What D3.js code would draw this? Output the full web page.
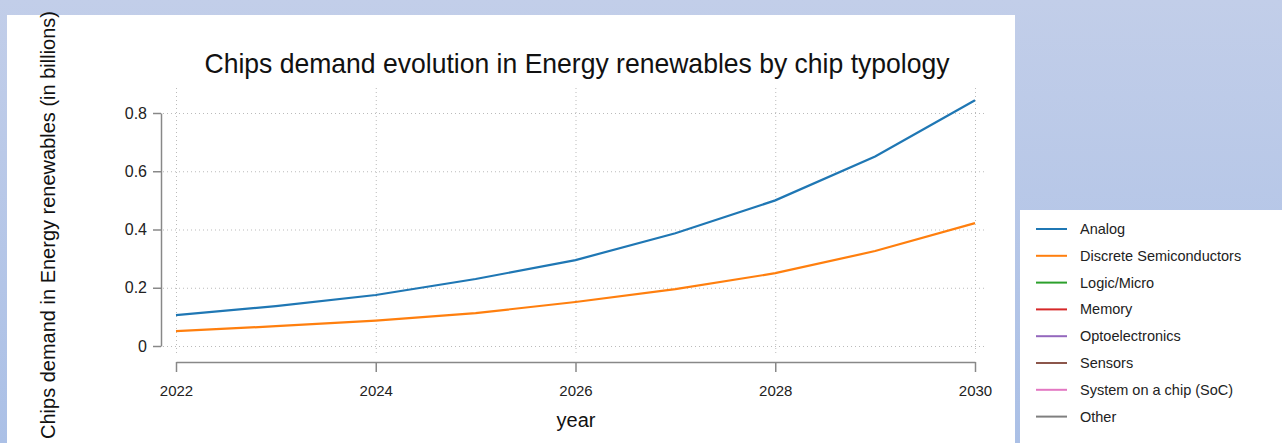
<!DOCTYPE html>
<html><head><meta charset="utf-8">
<script src="https://cdn.jsdelivr.net/npm/d3@7"></script>
<style>
html,body{margin:0;padding:0;}
body{width:1282px;height:443px;overflow:hidden;background:linear-gradient(#c2cee9,#abc0e6);}
</style></head>
<body>
<svg id="chart" width="1282" height="443"></svg>
<script>
const years = [2022, 2023, 2024, 2025, 2026, 2027, 2028, 2029, 2030];
const analog = [0.106, 0.137, 0.175, 0.230, 0.295, 0.387, 0.500, 0.651, 0.844];
const discrete = [0.051, 0.068, 0.087, 0.113, 0.151, 0.195, 0.250, 0.326, 0.422];
const seriesNames = ["Analog","Discrete Semiconductors","Logic/Micro","Memory","Optoelectronics","Sensors","System on a chip (SoC)","Other"];
const seriesColors = ["#1f77b4","#ff7f0e","#2ca02c","#d62728","#9467bd","#8c564b","#e377c2","#7f7f7f"];
const yTicks = [0, 0.2, 0.4, 0.6, 0.8];
const xTicks = [2022, 2024, 2026, 2028, 2030];
const title = "Chips demand evolution in Energy renewables by chip typology";
const xLabel = "year";
const yLabel = "Chips demand in Energy renewables (in billions)";

const svg = d3.select("#chart");
const font = "'Liberation Sans', Arial, sans-serif";

// panels
svg.append("rect").attr("x",7).attr("y",15).attr("width",1008).attr("height",430).attr("fill","#fff");
svg.append("rect").attr("x",1020).attr("y",210).attr("width",262).attr("height",235).attr("fill","#fff");

const x = d3.scaleLinear().domain([2022,2030]).range([176,975]);
const y = d3.scaleLinear().domain([0,0.8]).range([346,113]);

// grid
const grid = svg.append("g").attr("stroke","#bbb").attr("stroke-width",1).attr("stroke-dasharray","1,3");
grid.selectAll("line.h").data(yTicks).join("line").attr("class","h")
  .attr("x1",163).attr("x2",985).attr("y1",d=>y(d)+0.5).attr("y2",d=>y(d)+0.5);
grid.selectAll("line.v").data(xTicks).join("line").attr("class","v")
  .attr("y1",88).attr("y2",354).attr("x1",d=>x(d)+0.5).attr("x2",d=>x(d)+0.5);

// y axis
const yAxis = d3.axisLeft(y).tickValues(yTicks).tickFormat(d=>d===0?"0":d3.format(".1f")(d)).tickSize(8).tickSizeOuter(0);
const gy = svg.append("g").attr("transform","translate(161,0)").call(yAxis);
gy.select(".domain").attr("stroke","#888").attr("stroke-width",1.5);
gy.selectAll(".tick line").attr("stroke","#888").attr("stroke-width",1.5);
gy.selectAll(".tick text").attr("font-family",font).attr("font-size",16).attr("fill","#222").attr("x",-14);

// x axis
const xAxis = d3.axisBottom(x).tickValues(xTicks).tickFormat(d3.format("d")).tickSize(10).tickSizeOuter(0);
const gx = svg.append("g").attr("transform","translate(0,362)").call(xAxis);
gx.select(".domain").attr("stroke","#888").attr("stroke-width",1.5);
gx.selectAll(".tick line").attr("stroke","#888").attr("stroke-width",1.5);
gx.selectAll(".tick text").attr("font-family",font).attr("font-size",15).attr("fill","#222").attr("dy","1.4em");

// lines
const line = d3.line().x((d,i)=>x(years[i])).y(d=>y(d));
[[analog,seriesColors[0]],[discrete,seriesColors[1]]].forEach(([vals,c])=>{
  svg.append("path").datum(vals).attr("d",line).attr("fill","none").attr("stroke",c).attr("stroke-width",2.2);
});

// title & labels
svg.append("text").attr("x",577).attr("y",73).attr("text-anchor","middle").attr("font-family",font)
  .attr("font-size",28).attr("fill","#111").attr("textLength",745).attr("lengthAdjust","spacingAndGlyphs").text(title);
svg.append("text").attr("x",576).attr("y",427).attr("text-anchor","middle").attr("font-family",font)
  .attr("font-size",20).attr("fill","#111").text(xLabel);
svg.append("text").attr("transform","translate(55,225) rotate(-90)").attr("text-anchor","middle").attr("font-family",font)
  .attr("font-size",20).attr("fill","#111").text(yLabel);

// legend
const lg = svg.append("g");
const items = lg.selectAll("g").data(seriesNames).join("g")
  .attr("transform",(d,i)=>`translate(0,${229+i*26.8})`);
items.append("line").attr("x1",1036).attr("x2",1067).attr("y1",0).attr("y2",0)
  .attr("stroke",(d,i)=>seriesColors[i]).attr("stroke-width",2);
items.append("text").attr("x",1080).attr("y",0).attr("dy","0.35em").attr("font-family",font)
  .attr("font-size",14.5).attr("fill","#222").text(d=>d);
</script>
</body></html>
